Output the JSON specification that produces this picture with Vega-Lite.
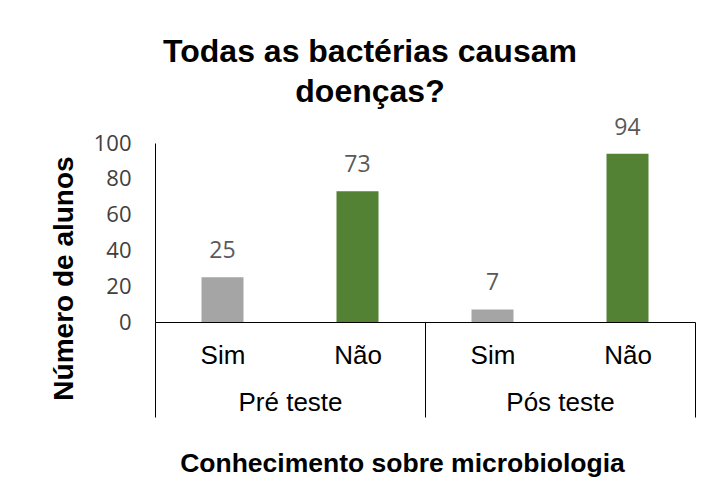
{
  "$schema": "https://vega.github.io/schema/vega-lite/v6.json",
  "autosize": "none",
  "padding": {"left": 155, "top": 143, "right": 23, "bottom": 160},
  "width": 540,
  "height": 179,
  "background": "white",
  "config": {"view": {"stroke": null}},
  "title": {
    "text": ["Todas as bactérias causam", "doenças?"],
    "font": "Liberation Sans",
    "fontSize": 32,
    "fontWeight": "bold",
    "color": "#000000",
    "lineHeight": 40,
    "anchor": "middle",
    "dx": -55,
    "offset": 8
  },
  "data": {
    "values": [
      {"teste": "Pré teste", "resposta": "Sim", "ordem": 1, "n": 25},
      {"teste": "Pré teste", "resposta": "Não", "ordem": 2, "n": 73},
      {"teste": "Pós teste", "resposta": "Sim", "ordem": 3, "n": 7},
      {"teste": "Pós teste", "resposta": "Não", "ordem": 4, "n": 94}
    ]
  },
  "resolve": {"axis": {"x": "independent"}},
  "encoding": {
    "y": {
      "field": "n",
      "type": "quantitative",
      "scale": {"domain": [0, 100], "nice": false},
      "axis": {
        "title": "Número de alunos",
        "titleFont": "Liberation Sans",
        "titleFontSize": 28,
        "titleFontWeight": "bold",
        "titleColor": "#000000",
        "titleX": -91,
        "titleY": 135,
        "titleBaseline": "middle",
        "titleAlign": "center",
        "values": [0, 20, 40, 60, 80, 100],
        "ticks": false,
        "grid": false,
        "domainColor": "#000000",
        "domainWidth": 1,
        "labelFont": "Open Sans",
        "labelFontSize": 22,
        "labelColor": "#404040",
        "labelPadding": 24,
        "labelOverlap": false,
        "labelFlush": false
      }
    }
  },
  "layer": [
    {
      "mark": {"type": "bar", "width": 42},
      "encoding": {
        "x": {
          "field": "ordem",
          "type": "quantitative",
          "scale": {"domain": [0.5, 4.5], "nice": false, "zero": false, "padding": 0},
          "axis": {
            "orient": "bottom",
            "title": null,
            "values": [1, 2, 3, 4],
            "labelExpr": "datum.value % 2 == 1 ? 'Sim' : 'Não'",
            "ticks": false,
            "grid": false,
            "domain": true,
            "domainColor": "#000000",
            "domainWidth": 1,
            "labelFont": "Liberation Sans",
            "labelFontSize": 26,
            "labelColor": "#000000",
            "labelPadding": 20,
            "labelOverlap": false,
            "labelFlush": false
          }
        },
        "color": {
          "field": "resposta",
          "type": "nominal",
          "scale": {"domain": ["Sim", "Não"], "range": ["#a5a5a5", "#548235"]},
          "legend": null
        }
      }
    },
    {
      "mark": {"type": "text", "baseline": "alphabetic", "dy": -19, "font": "Open Sans", "fontSize": 23, "color": "#595959"},
      "encoding": {
        "x": {
          "field": "ordem",
          "type": "quantitative",
          "axis": {
            "orient": "bottom",
            "title": "Conhecimento sobre microbiologia",
            "titleFont": "Liberation Sans",
            "titleFontSize": 26.5,
            "titleFontWeight": "bold",
            "titleColor": "#000000",
            "titleX": 247,
            "titleY": 141,
            "titleBaseline": "middle",
            "titleAlign": "center",
            "values": [0.5, 1.5, 2.5, 3.5, 4.5],
            "labelExpr": "datum.value == 1.5 ? 'Pré teste' : (datum.value == 3.5 ? 'Pós teste' : '')",
            "domain": false,
            "grid": false,
            "ticks": true,
            "tickSize": 95,
            "tickColor": "#000000",
            "tickWidth": 1,
            "tickOpacity": {"condition": {"test": "datum.value == 1.5 || datum.value == 3.5", "value": 0}, "value": 1},
            "labelFont": "Liberation Sans",
            "labelFontSize": 26,
            "labelColor": "#000000",
            "labelPadding": -28,
            "labelOverlap": false,
            "labelFlush": false,
            "labelBound": false
          }
        },
        "text": {"field": "n", "type": "quantitative"}
      }
    }
  ]
}
